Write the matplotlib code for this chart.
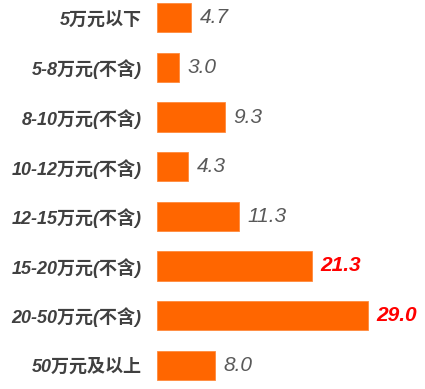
import matplotlib
matplotlib.use("Agg")
import matplotlib.pyplot as plt

plt.rcParams['font.family'] = ['Liberation Sans', 'Noto Sans CJK SC']

# salary ranges and share (%)
categories = ["5万元以下", "5-8万元(不含)", "8-10万元(不含)", "10-12万元(不含)",
              "12-15万元(不含)", "15-20万元(不含)", "20-50万元(不含)", "50万元及以上"]
values = [4.7, 3.0, 9.3, 4.3, 11.3, 21.3, 29.0, 8.0]
highlight = [False, False, False, False, False, True, True, False]

fig = plt.figure(figsize=(4.25, 3.89), dpi=100)
ax = fig.add_axes([157 / 425, 0, 1 - 157 / 425, 1])

ypos = list(range(len(categories)))
ax.barh(ypos, values, height=0.59, color="#FF6600", edgecolor="#FF8A3D", linewidth=0.6)

ax.set_xlim(0, 36.8)
ax.set_ylim(7.48, -0.36)

ax.set_yticks(ypos)
ax.set_yticklabels(categories, fontsize=13, fontweight="bold", fontstyle="italic", color="#404040")
ax.tick_params(axis="y", length=0, pad=11)
ax.set_xticks([])
for s in ax.spines.values():
    s.set_visible(False)

for y, v, hl in zip(ypos, values, highlight):
    if hl:
        ax.annotate(f"{v:.1f}", (v, y), xytext=(6, 0), textcoords="offset points",
                    va="center", ha="left", fontsize=15, fontstyle="italic",
                    fontweight="bold", color="#FF0000")
    else:
        ax.annotate(f"{v:.1f}", (v, y), xytext=(6, 0), textcoords="offset points",
                    va="center", ha="left", fontsize=15, fontstyle="italic",
                    color="#595959")

fig.savefig("out.png", dpi=100)
